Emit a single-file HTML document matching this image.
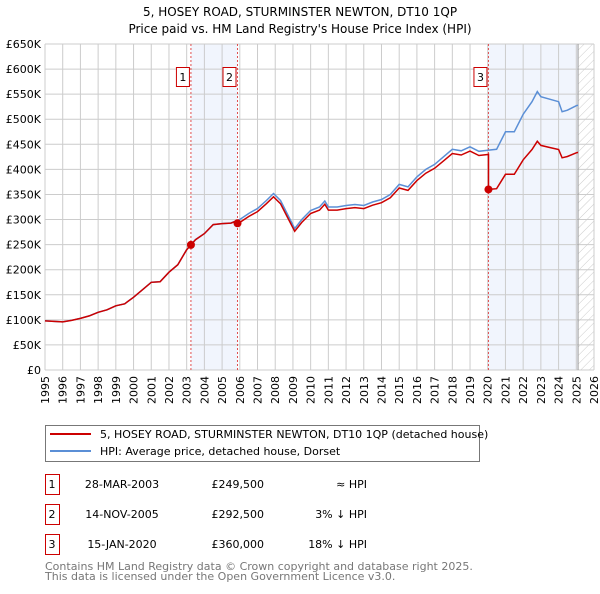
<!DOCTYPE html>
<html><head><meta charset="utf-8"><style>
body{margin:0;background:#fff;font-family:"DejaVu Sans","Liberation Sans",sans-serif;}
svg text{font-family:"DejaVu Sans","Liberation Sans",sans-serif;}
</style></head><body>
<svg id="c" width="600" height="590" xmlns="http://www.w3.org/2000/svg">
<defs><pattern id="hatch" width="6" height="6" patternUnits="userSpaceOnUse" patternTransform="rotate(45)"><line x1="0" y1="0" x2="0" y2="6" stroke="#ccc" stroke-width="1"/></pattern></defs>
<text x="300" y="16" text-anchor="middle" font-size="12">5, HOSEY ROAD, STURMINSTER NEWTON, DT10 1QP</text>
<text x="300" y="33" text-anchor="middle" font-size="12">Price paid vs. HM Land Registry's House Price Index (HPI)</text>
<g id="plot"></g>
<g>
<rect x="45.5" y="425.5" width="434" height="36" fill="#fff" stroke="#777"/>
<line x1="50" y1="434" x2="91" y2="434" stroke="#cc0000" stroke-width="2"/>
<text x="100" y="438" font-size="11">5, HOSEY ROAD, STURMINSTER NEWTON, DT10 1QP (detached house)</text>
<line x1="50" y1="451" x2="91" y2="451" stroke="#5b8fd6" stroke-width="2"/>
<text x="100" y="455" font-size="11">HPI: Average price, detached house, Dorset</text>
</g>
<g id="table" font-size="11"></g>
<text x="45" y="570" font-size="11" fill="#777">Contains HM Land Registry data © Crown copyright and database right 2025.</text>
<text x="45" y="580" font-size="11" fill="#777">This data is licensed under the Open Government Licence v3.0.</text>
</svg>
<script>
const yTicks=[0,50,100,150,200,250,300,350,400,450,500,550,600,650];
const yLabels=["£0","£50K","£100K","£150K","£200K","£250K","£300K","£350K","£400K","£450K","£500K","£550K","£600K","£650K"];
const years=[1995,1996,1997,1998,1999,2000,2001,2002,2003,2004,2005,2006,2007,2008,2009,2010,2011,2012,2013,2014,2015,2016,2017,2018,2019,2020,2021,2022,2023,2024,2025,2026];
const hpiT=[1995,1995.5,1996,1996.5,1997,1997.5,1998,1998.5,1999,1999.5,2000,2000.5,2001,2001.5,2002,2002.5,2003,2003.25,2003.5,2004,2004.5,2005,2005.5,2006,2006.5,2007,2007.5,2007.9,2008.3,2008.7,2009.1,2009.5,2010,2010.5,2010.8,2011,2011.5,2012,2012.5,2013,2013.5,2014,2014.5,2015,2015.5,2016,2016.5,2017,2017.5,2018,2018.5,2019,2019.5,2020,2020.5,2021,2021.5,2022,2022.5,2022.8,2023,2023.5,2024,2024.2,2024.5,2025,2025.1];
const hpiV=[98,97,96,99,103,108,115,120,128,132,145,160,175,176,195,210,240,250,260,272,290,292,293,300,312,322,338,352,338,310,282,300,318,325,337,325,325,328,330,328,335,340,350,370,365,385,400,410,425,440,437,445,436,438,440,475,475,510,535,555,545,540,535,515,518,527,528];
const saleT=[2003.24,2005.87,2020.04];
const saleV=[249.5,292.5,360];
const saleLabels=["1","2","3"];
const saleDates=["28-MAR-2003","14-NOV-2005","15-JAN-2020"];
const salePrices=["£249,500","£292,500","£360,000"];
const saleRel=["≈ HPI","3% ↓ HPI","18% ↓ HPI"];

const X0=45,X1=594,Y0=370,Y1=44;
const xs=t=>X0+(t-1995)/(2026-1995)*(X1-X0);
const ys=v=>Y0-v/650*(Y0-Y1);
const NS="http://www.w3.org/2000/svg";
const plot=document.getElementById('plot');
function mk(tag,attrs,parent){const e=document.createElementNS(NS,tag);for(const k in attrs)e.setAttribute(k,attrs[k]);(parent||plot).appendChild(e);return e;}
function hpiAt(t){for(let i=0;i<hpiT.length-1;i++){if(t<=hpiT[i+1]){const f=(t-hpiT[i])/(hpiT[i+1]-hpiT[i]);return hpiV[i]+f*(hpiV[i+1]-hpiV[i]);}}return hpiV[hpiV.length-1];}

let r=mk('rect',{x:xs(saleT[0]),y:Y1,width:xs(saleT[1])-xs(saleT[0]),height:Y0-Y1,fill:'#eef3fc',opacity:0.8});

r=mk('rect',{x:xs(saleT[2]),y:Y1,width:xs(2025.1)-xs(saleT[2]),height:Y0-Y1,fill:'#eef3fc',opacity:0.8});

r=mk('rect',{x:xs(2025.1),y:Y1,width:X1-xs(2025.1),height:Y0-Y1,fill:'url(#hatch)'});


years.forEach(y=>{const l=mk('line',{x1:xs(y),x2:xs(y),y1:Y1,y2:Y0,stroke:'#ccc','stroke-width':1});

const t=mk('text',{x:0,y:0,'font-size':11,transform:`translate(${xs(y)+4},${Y0+6}) rotate(-90)`,'text-anchor':'end'});
t.textContent=y;});
yTicks.forEach((v,i)=>{const l=mk('line',{x1:X0,x2:X1,y1:ys(v),y2:ys(v),stroke:'#ccc','stroke-width':1});

const t=mk('text',{x:X0-4,y:ys(v)+4,'font-size':11,'text-anchor':'end'});
t.textContent=yLabels[i];});
let b=mk('line',{x1:xs(2025.1),x2:xs(2025.1),y1:Y1,y2:Y0,stroke:'#999','stroke-width':1});


saleT.forEach((t,i)=>{const l=mk('line',{x1:xs(t),x2:xs(t),y1:Y1,y2:Y0,stroke:'#e05050','stroke-width':1,'stroke-dasharray':'2,2'});

const bx=mk('rect',{x:xs(t)-14.5,y:67.5,width:13,height:19,fill:'#fff',stroke:'#cc0000'});

const tx=mk('text',{x:xs(t)-8,y:81,'font-size':11,'text-anchor':'middle'});tx.textContent=saleLabels[i];
});

let d='';hpiT.forEach((t,i)=>{d+=(i?'L':'M')+xs(t).toFixed(1)+','+ys(hpiV[i]).toFixed(1);});
let p=mk('path',{d:d,fill:'none',stroke:'#5b8fd6','stroke-width':1.5});


const allT=hpiT.concat(saleT).sort((a,b)=>a-b);
d='';allT.forEach((t,i)=>{let k=-1;for(let j=0;j<saleT.length;j++)if(t>=saleT[j]-1e-9)k=j;
const ratio=k<0?saleV[0]/hpiAt(saleT[0]):saleV[k]/hpiAt(saleT[k]);
if(k>=1&&Math.abs(t-saleT[k])<1e-9){const pr=saleV[k-1]/hpiAt(saleT[k-1]);d+='L'+xs(t).toFixed(1)+','+ys(hpiAt(t)*pr).toFixed(1);}
d+=(d?'L':'M')+xs(t).toFixed(1)+','+ys(hpiAt(t)*ratio).toFixed(1);});
p=mk('path',{d:d,fill:'none',stroke:'#cc0000','stroke-width':1.5});

saleT.forEach((t,i)=>{const c=mk('circle',{cx:xs(t),cy:ys(saleV[i]),r:4,fill:'#cc0000'});
});

const tb=document.getElementById('table');
saleT.forEach((t,i)=>{const y=472+i*30;
const bx=mk('rect',{x:45.5,y:y+2.5,width:14,height:20,fill:'#fff',stroke:'#cc0000'},tb);

const cells=[[52,'middle',saleLabels[i],'table-sale-number'],[122,'middle',saleDates[i],'table-sale-date'],[264,'end',salePrices[i],'table-sale-price'],[367,'end',saleRel[i],'table-sale-hpi-relation']];
cells.forEach(c=>{const tx=mk('text',{x:c[0],y:y+16,'text-anchor':c[1]},tb);tx.textContent=c[2];
});});
</script>
</body></html>
